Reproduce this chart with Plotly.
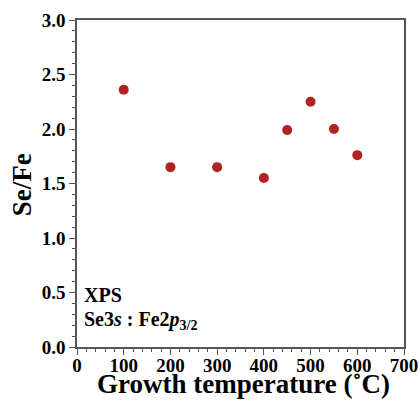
import plotly.graph_objects as go

temps = [100, 200, 300, 400, 450, 500, 550, 600]
se_fe = [2.36, 1.65, 1.65, 1.55, 1.99, 2.25, 2.00, 1.76]

font_fam = "Liberation Serif"

fig = go.Figure()
fig.add_trace(go.Scatter(
    x=temps, y=se_fe, mode="markers",
    marker=dict(size=10, color="#B22222"),
    showlegend=False,
))

fig.update_layout(
    width=420, height=406,
    margin=dict(l=77, r=16, t=20, b=59),
    paper_bgcolor="white", plot_bgcolor="white",
    font=dict(family=font_fam, color="black"),
    xaxis=dict(
        range=[0, 700], dtick=100, tick0=0, automargin=False,
        showgrid=False, zeroline=False,
        showline=True, linecolor="#555", linewidth=1.5, mirror=True,
        ticks="outside", ticklen=6, tickwidth=1.2, tickcolor="#555",
        minor=dict(ticks="outside", dtick=20, ticklen=3, tickcolor="#555", tickwidth=1),
        tickfont=dict(size=19, family=font_fam),
        tickprefix="<b>", ticksuffix="</b>",
        ticklabelstandoff=-6,
    ),
    yaxis=dict(
        range=[0, 3.0], dtick=0.5, tick0=0, tickformat=".1f", automargin=False,
        showgrid=False, zeroline=False,
        showline=True, linecolor="#555", linewidth=1.5, mirror=True,
        ticks="outside", ticklen=6, tickwidth=1.2, tickcolor="#555",
        minor=dict(ticks="outside", dtick=0.1, ticklen=3, tickcolor="#555", tickwidth=1),
        tickfont=dict(size=19, family=font_fam),
        tickprefix="<b>", ticksuffix="</b>",
    ),
    annotations=[
        dict(xref="paper", yref="paper", x=0.509, y=-0.114, xanchor="center", yanchor="middle",
             text="<b>Growth temperature (˚C)</b>", showarrow=False,
             font=dict(size=27, family=font_fam)),
        dict(xref="paper", yref="paper", x=-0.168, y=0.495, xanchor="center", yanchor="middle",
             text="<b>Se/Fe</b>", showarrow=False, textangle=-90,
             font=dict(size=27, family=font_fam)),
        dict(xref="paper", yref="paper", x=0.015, y=0.158, xanchor="left", yanchor="middle",
             text="<b>XPS</b>", showarrow=False, font=dict(size=20, family=font_fam)),
        dict(xref="paper", yref="paper", x=0.015, y=0.08, xanchor="left", yanchor="middle",
             text="<b>Se3<i>s</i> : Fe2<i>p</i><sub>3/2</sub></b>", showarrow=False,
             font=dict(size=20, family=font_fam)),
    ],
)

fig.write_html("out.html")
